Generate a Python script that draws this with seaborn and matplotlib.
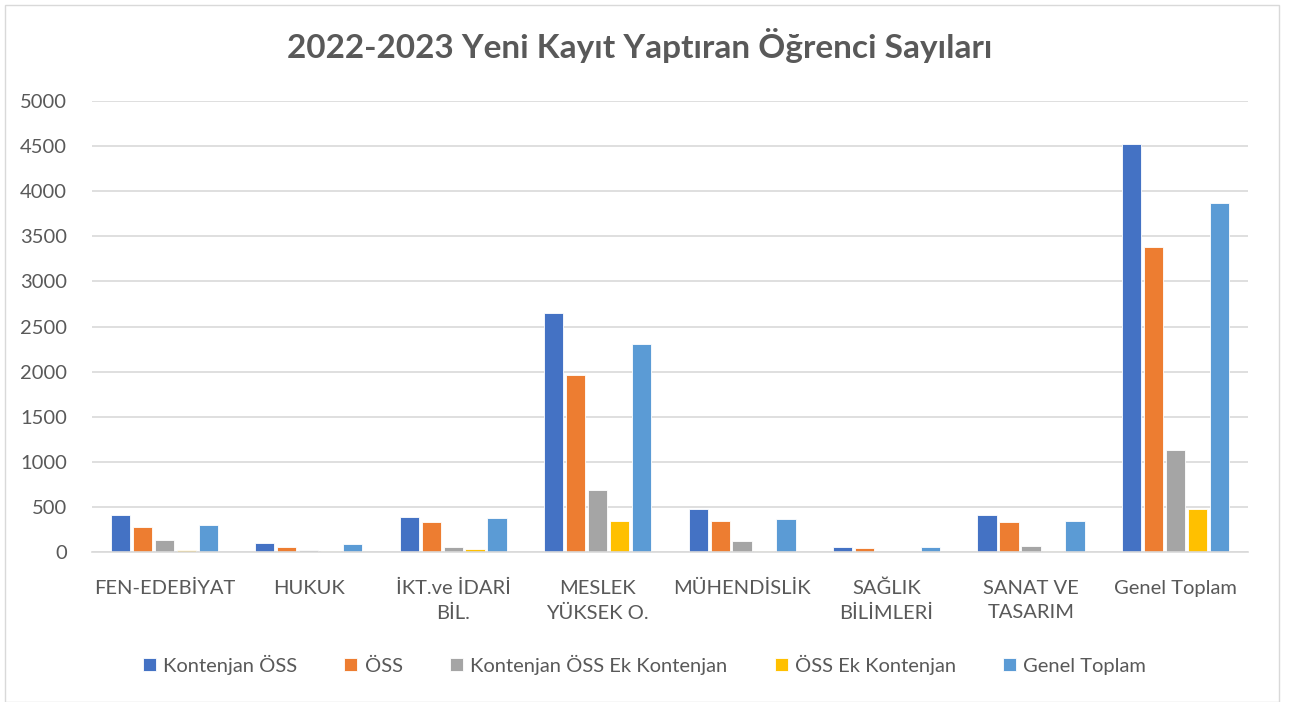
import numpy as np
import pandas as pd
import seaborn as sns
import matplotlib.pyplot as plt

# --- Data ---
categories = ["FEN-EDEBİYAT", "HUKUK", "İKT.ve İDARİ\nBİL.", "MESLEK\nYÜKSEK O.",
              "MÜHENDİSLİK", "SAĞLIK\nBİLİMLERİ", "SANAT VE\nTASARIM", "Genel Toplam"]
series = ["Kontenjan ÖSS", "ÖSS", "Kontenjan ÖSS Ek Kontenjan", "ÖSS Ek Kontenjan", "Genel Toplam"]

kontenjan_oss = [415, 96, 390, 2655, 478, 56, 410, 4525]
oss = [272, 60, 335, 1958, 345, 45, 335, 3385]
kontenjan_ek = [135, 22, 50, 690, 126, 2, 68, 1135]
oss_ek = [20, 11, 38, 348, 11, 3, 11, 473]
genel_toplam = [298, 86, 376, 2308, 363, 56, 348, 3865]

colors = ["#4472C4", "#ED7D31", "#A5A5A5", "#FFC000", "#5B9BD5"]

rows = []
for name, vals in zip(series, [kontenjan_oss, oss, kontenjan_ek, oss_ek, genel_toplam]):
    for cat, v in zip(categories, vals):
        rows.append({"Fakülte": cat, "Seri": name, "Sayı": v})
df = pd.DataFrame(rows)

# --- Graph ---
sns.set_theme(style="white")
plt.rcParams["font.family"] = ["Lato", "DejaVu Sans"]

fig = plt.figure(figsize=(12.89, 7.02), dpi=100)
ax = fig.add_axes([0.0714, 0.2137, 0.8966, 0.6424])

sns.barplot(data=df, x="Fakülte", y="Sayı", hue="Seri", hue_order=series,
            order=categories, palette=colors, saturation=1, width=0.76, gap=0.12,
            edgecolor="white", linewidth=0.6, ax=ax, legend=True)

ax.set_ylim(0, 5000)
ax.set_yticks(np.arange(0, 5001, 500))
ax.yaxis.grid(True, color="#D9D9D9", linewidth=1.2)
ax.set_axisbelow(True)
for s in ["top", "right", "left"]:
    ax.spines[s].set_visible(False)
ax.spines["bottom"].set_color("#D9D9D9")
ax.spines["bottom"].set_linewidth(1.2)

ax.set_xlabel("")
ax.set_ylabel("")
ax.tick_params(axis="both", colors="#595959", labelsize=14.5, length=0)
ax.tick_params(axis="y", pad=18)
ax.tick_params(axis="x", pad=20)
for lbl in ax.get_xticklabels():
    lbl.set_linespacing(1.55)

fig.suptitle("2022-2023 Yeni Kayıt Yaptıran Öğrenci Sayıları", x=0.496, y=0.96,
             fontsize=24, fontweight="bold", color="#595959")

handles, labels = ax.get_legend_handles_labels()
ax.legend(handles, labels, loc="center", bbox_to_anchor=(0.5, 0.0535),
          bbox_transform=fig.transFigure, ncol=5, frameon=False,
          handlelength=0.65, handleheight=0.65, handletextpad=0.35,
          columnspacing=2.35, fontsize=14.5, labelcolor="#595959")

# Light border around the chart area
fig.patches.append(plt.Rectangle((0.004, 0.0), 0.988, 0.993, transform=fig.transFigure,
                                 fill=False, edgecolor="#D9D9D9", linewidth=1))

plt.savefig("out.png", dpi=100)
